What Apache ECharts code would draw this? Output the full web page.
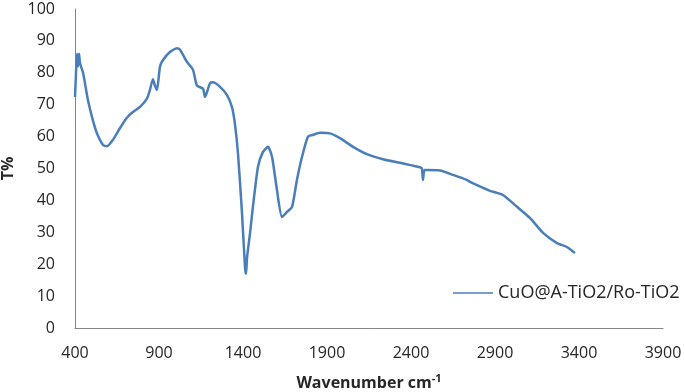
<!DOCTYPE html>
<html>
<head>
<meta charset="utf-8">
<script src="https://cdn.jsdelivr.net/npm/echarts@6/dist/echarts.min.js"></script>
<style>
  html, body { margin: 0; padding: 0; background: #fff; }
  #chart { width: 685px; height: 392px; }
</style>
</head>
<body>
<div id="chart"></div>
<script>
// FTIR spectrum
const seriesName = 'CuO@A-TiO2/Ro-TiO2';
const wavenumber = [
  400, 406, 412, 418, 424, 430, 448, 477, 507, 531, 567, 590, 626, 668, 710,
  745, 787, 829, 846, 864, 876, 888, 906, 924, 965, 1007, 1025, 1067, 1102,
  1126, 1162, 1174, 1204, 1221, 1263, 1305, 1334, 1352, 1370, 1394, 1412,
  1418, 1424, 1442, 1459, 1489, 1519, 1549, 1573, 1602, 1632, 1662, 1692,
  1721, 1751, 1787, 1820, 1858, 1918, 1977, 2055, 2138, 2233, 2334, 2412,
  2453, 2465, 2471, 2480, 2495, 2573, 2650, 2733, 2751, 2870, 2947, 3031,
  3108, 3186, 3269, 3328, 3376
];
const transmittance = [
  72.4, 80, 86, 82, 86, 83, 80, 71.5, 65, 61, 57.4, 57, 59, 62.7, 66,
  67.7, 69.3, 72, 74.6, 78, 76, 74.6, 82, 84, 86.5, 87.7, 87.2, 83.4, 81,
  76, 75, 72.4, 76.8, 77, 75.6, 73, 69.3, 64, 54.8, 36, 19,
  17, 22, 29.8, 38, 50.5, 55.2, 56.8, 53.6, 43.3, 34.8, 36.4, 38,
  46.4, 53.6, 60, 60.6, 61.2, 61, 59.5, 56.8, 54.5, 52.9, 51.8, 50.9,
  50.4, 50, 46.4, 49.5, 49.5, 49.4, 48, 46.4, 45.8, 43, 41.7, 38,
  34.5, 29.8, 26.6, 25.4, 23.5
];
const xTicks = { min: 400, max: 3900, step: 500 };
const yTicks = { min: 0, max: 100, step: 10 };

const chart = echarts.init(document.getElementById('chart'));
const fontFamily = '"Open Sans", sans-serif';
const axisGray = '#868686';
const textColor = '#262626';

const points = wavenumber.map((w, i) => [w, transmittance[i]]);

chart.setOption({
  animation: false,
  backgroundColor: '#fff',
  textStyle: { fontFamily: fontFamily },
  grid: { left: 75, right: 22, top: 9, bottom: 64, containLabel: false, outerBoundsMode: 'none' },
  legend: {
    left: 453,
    top: 284,
    padding: 0,
    itemWidth: 40,
    itemHeight: 10,
    itemGap: 4,
    icon: 'path://M0,4.2L40,4.2L40,5.8L0,5.8Z',
    textStyle: { fontSize: 18, color: textColor, fontFamily: fontFamily },
    data: [seriesName]
  },
  xAxis: {
    type: 'value',
    min: xTicks.min,
    max: xTicks.max,
    interval: xTicks.step,
    name: '{a|Wavenumber cm}{s|-1}',
    nameLocation: 'middle',
    nameGap: 45,
    nameTextStyle: {
      rich: {
        a: { fontSize: 16, fontWeight: 'bold', color: textColor, fontFamily: fontFamily },
        s: { fontSize: 11, fontWeight: 'bold', color: textColor, fontFamily: fontFamily, padding: [0, 0, 9, 0] }
      }
    },
    axisLine: { lineStyle: { color: axisGray, width: 1 } },
    axisTick: { show: false },
    splitLine: { show: false },
    axisLabel: { fontSize: 16, color: textColor, margin: 17, formatter: (v) => String(v) }
  },
  yAxis: {
    type: 'value',
    min: yTicks.min,
    max: yTicks.max,
    interval: yTicks.step,
    name: 'T%',
    nameLocation: 'middle',
    nameGap: 55,
    nameRotate: 90,
    nameTextStyle: { fontSize: 16, fontWeight: 'bold', color: textColor },
    axisLine: { show: true, lineStyle: { color: axisGray, width: 1 } },
    axisTick: { show: false },
    splitLine: { show: false },
    axisLabel: { fontSize: 16, color: textColor, margin: 20 }
  },
  series: [{
    name: seriesName,
    type: 'line',
    data: points,
    symbol: 'none',
    smooth: 0.2,
    lineStyle: { color: '#4a7ebb', width: 2.5 },
    itemStyle: { color: '#4a7ebb' }
  }]
});
</script>
</body>
</html>
